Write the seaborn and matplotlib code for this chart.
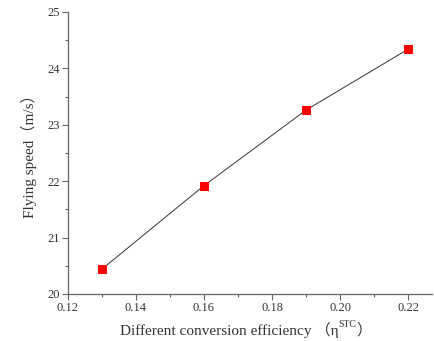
import matplotlib
matplotlib.use("Agg")
import matplotlib.pyplot as plt
import seaborn as sns
import pandas as pd
from matplotlib.ticker import MultipleLocator
from matplotlib.transforms import offset_copy

efficiency = [0.13, 0.16, 0.19, 0.22]
speed = [20.44, 21.92, 23.26, 24.34]
x_ticks = [0.12, 0.14, 0.16, 0.18, 0.20, 0.22]
y_ticks = [20, 21, 22, 23, 24, 25]

sns.set_theme(style="ticks")
plt.rcParams['font.family'] = ['Liberation Serif', 'Noto Sans CJK SC', 'DejaVu Sans']

df = pd.DataFrame({"eff": efficiency, "speed": speed})

fig = plt.figure(figsize=(4.35, 3.41), dpi=100)
ax = fig.add_axes([0.156, 0.138, 0.837, 0.827])
sns.lineplot(data=df, x="eff", y="speed", ax=ax, color="#333333", linewidth=0.7,
             marker="s", markersize=5.5, markerfacecolor="#ff0000",
             markeredgecolor="#ff0000", zorder=3)

ax.set_xlim(0.12, 0.227)
ax.set_ylim(20, 25)
ax.set_xticks(x_ticks)
ax.set_xticklabels([f"{v:.2f}" for v in x_ticks])
ax.set_yticks(y_ticks)
ax.set_yticklabels([str(v) for v in y_ticks])
ax.xaxis.set_minor_locator(MultipleLocator(0.01))
ax.yaxis.set_minor_locator(MultipleLocator(0.5))
for s in ["top", "right"]:
    ax.spines[s].set_visible(False)
for s in ["left", "bottom"]:
    ax.spines[s].set_color("#666666")
    ax.spines[s].set_linewidth(0.9)
ax.tick_params(which="major", direction="out", length=4, width=0.8, color="#666666",
               labelsize=9, labelcolor="#333333", pad=2)
ax.tick_params(which="minor", direction="out", length=2, width=0.8, color="#666666")

ax.set_xlabel("")
ax.set_ylabel("Flying speed（m/s）", fontsize=11, color="#333333", labelpad=7)

# x label built from pieces so the superscript works with the CJK parentheses
fig.canvas.draw()
r = fig.canvas.get_renderer()
x0, y0 = 120 / 435, (341 - 335) / 341
t1 = fig.text(x0, y0, "Different conversion efficiency （η", fontsize=11,
              color="#333333", ha="left", va="baseline")
w1 = t1.get_window_extent(r).width
tr2 = offset_copy(fig.transFigure, fig=fig, x=w1 * 72 / fig.dpi, y=5.5, units="points")
t2 = fig.text(x0, y0, "STC", fontsize=7, color="#333333", ha="left",
              va="baseline", transform=tr2)
w2 = t2.get_window_extent(r).width
tr3 = offset_copy(fig.transFigure, fig=fig, x=(w1 + w2) * 72 / fig.dpi, y=0, units="points")
fig.text(x0, y0, "）", fontsize=11, color="#333333", ha="left", va="baseline",
         transform=tr3)

fig.savefig("out.png", dpi=100)
